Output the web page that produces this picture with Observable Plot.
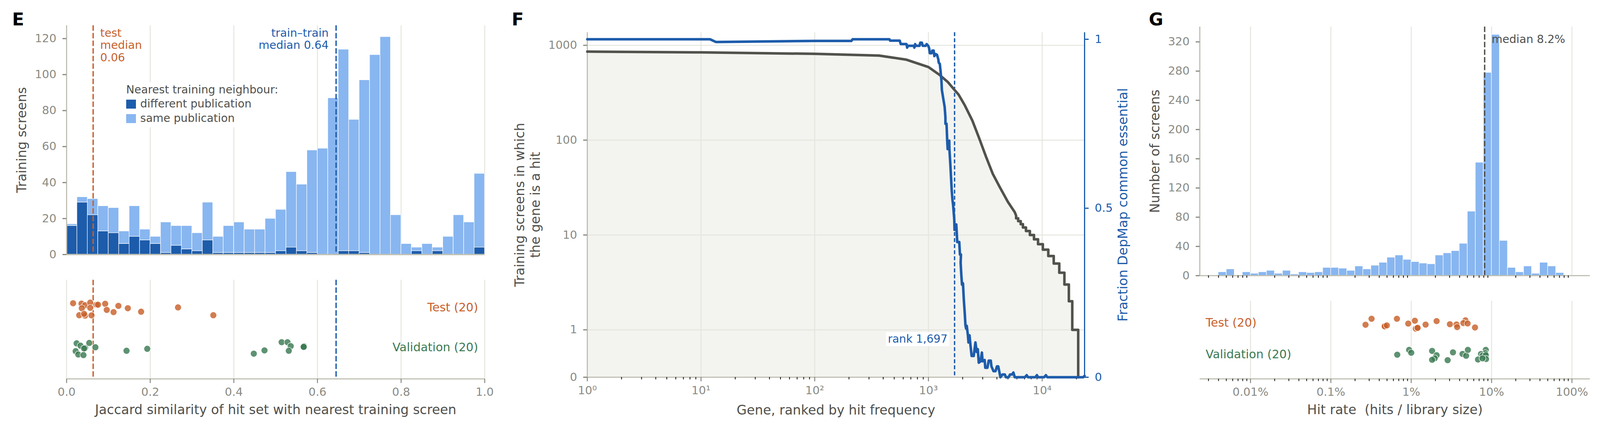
<!DOCTYPE html>
<html><head><meta charset="utf-8">
<script src="https://cdn.jsdelivr.net/npm/d3@7"></script>
<script src="https://cdn.jsdelivr.net/npm/@observablehq/plot@0.6"></script>
<style>
html,body{margin:0;padding:0;background:#fff}
#page{position:relative;width:4097px;height:1098px;overflow:hidden;background:#fff;font-family:"DejaVu Sans",sans-serif}
#page svg{position:absolute;background:transparent}
.letter{position:absolute;font-weight:700;font-size:45px;line-height:45px;color:#000}
.box{position:absolute;background:#fff}
.lab{position:absolute;font-size:28.2px;line-height:32px;color:#4f4f4b;white-space:pre}
.sw{position:absolute;width:25px;height:23px}
</style></head><body><div id="page"></div>
<script>
// ---------- Panel E ----------
const jaccardBinCount = 40;
const jaccardTotal = [17,32,31,27,26,13,27,14,10,18,16,16,12,29,10,16,18,14,14,20,25,46,39,58,59,87,114,75,97,111,121,22,6,4,6,4,10,22,18,45];
const jaccardDifferent = [16,29,22,13,12,6,10,8,6,1,5,3,2,8,1,1,1,1,1,1,2,4,2,1,0,0,2,2,1,0,0,0,0,2,0,2,0,0,0,4];
const testMedian = 0.0635, trainMedian = 0.6445;
const testJaccard = [.0155,.0356,.0442,.0565,.0713,.0751,.0922,.1239,.1464,.2665,.3509,.0364,.0565,.0960,.1123,.1782,.0302,.0442,.0418,.0596];
const testJaccardJitter = [1.111,1.101,1.062,1.127,1.075,1.075,1.098,1.045,.986,1.007,.811,.986,.996,.944,.889,.899,.811,.801,.845,.807];
const valJaccard = [.0240,.0333,.0442,.0418,.0542,.0689,.0217,.0279,.0403,.1433,.1929,.4477,.4733,.5143,.5283,.5360,.5314,.5678,.5670,.5670];
const valJaccardJitter = [.105,.046,-.01,-.023,.115,.007,-.091,-.174,-.189,-.081,-.032,-.154,-.072,.134,.134,.036,-.081,.036,.017,.017];
const jaccardTicks = [0,.2,.4,.6,.8,1];
const countTicksE = [0,20,40,60,80,100,120];
// ---------- Panel F ----------
const hitRank = [1,10,100,368,641,1000,1248,1475,1680,1841,2084,2432,2792,3206,3683,4236,5000,5741,5902,5902,6152,6152,6476,6476,6776,6776,7206,7206,7800,7800,8476,8476,9200,9200,10140,10140,11320,11320,12640,12640,14140,14140,15690,15690,17170,17170,18400,18400,19480,19480,20750,20750];
const hitCount = [858,842,813,780,705,590,489,412,343,302,234,161,105,67,44,32,22.3,17.4,16,15,15,14,14,13,13,12,12,11,11,10,10,9,9,8,8,7,7,6,6,5,5,4,4,3,3,2,2,1,1,1,1,0];
const essRank = [1,12,13.5,100,210,215,454,460,559,571,641,650,659,747,752,764,775,835,847,875,890,946,964,995,1014,1028,1066,1081,1111,1127,1156,1189,1221,1231,1259,1276,1301,1312,1358,1388,1410,1411,1442,1462,1475,1524,1528,1558,1602,1626,1648,1686,1696,1717,1757,1792,1866,1893,1932,1919,1946,1973,2012,2047,2086,2115,2143,2173,2223,2250,2298,2328,2397,2500,2590,2656,2716,2770,2871,2952,2993,3120,3162,3300,3388,3532,3581,3733,3891,4000,4111,4295,4480,4699,4797,5069,5214,5433,5585,5741,7050,7311,7500,8700,8995,9200,10400,10790,11100,23000,23600];
const essFraction = [1,1,.992,.995,.995,1,1,.9958,.9958,.9857,.9857,.9753,.9807,.9807,.9753,.9857,.9807,.9807,.99,.99,.9807,.9807,.9857,.9807,.9734,.9588,.9588,.9665,.9665,.9503,.9561,.9541,.9407,.931,.927,.908,.877,.85,.819,.80,.769,.75,.75,.70,.675,.70,.675,.63,.553,.525,.509,.468,.436,.452,.452,.40,.40,.363,.363,.339,.302,.274,.278,.229,.189,.154,.144,.152,.124,.103,.124,.103,.063,.063,.103,.075,.083,.043,.047,.073,.047,.051,.028,.028,.049,.049,.032,.018,.018,.032,.032,0,.008,.008,0,0,.008,.008,.014,0,0,.006,0,0,.006,0,0,.006,0,0,.004];
const rankMedian = 1697;
const rankDecades = [1,10,100,1000,10000];
const rankDecadeLabels = ["10⁰","10¹","10²","10³","10⁴"];
const hitTicks = [0,1,10,100,1000];
const fractionTicks = [0,.5,1];
// ---------- Panel G ----------
const rateBinStartLog = -2.4, rateBinStepLog = 0.1;
const rateCounts = [5,9,0,5,3,5,7,3,7,2,5,4,5,11,11,10,7,13,9,14,18,25,28,22,19,17,16,28,31,34,44,88,155,278,330,48,11,5,13,3,18,13,4];
const rateMedian = 8.2;
const testRate = [.270,.321,.468,.468,.497,.664,.918,1.11,1.14,1.20,1.20,1.51,2.07,3.03,3.66,3.73,4.73,4.46,5.03,6.22];
const testRateJitter = [.938,1.128,.889,.889,.918,1.128,.975,1.066,.815,.840,.840,.942,1.053,.955,.947,.864,1.078,.992,.979,.852];
const valRate = [.942,1.00,.670,1.82,2.07,1.96,1.82,2.84,3.31,4.35,4.82,5.07,8.47,8.32,7.38,7.71,8.47,6.78,8.53,7.71];
const valRateJitter = [.144,.053,-.008,.111,-.025,-.123,-.169,-.181,.066,.016,-.041,.144,.144,.041,.012,-.041,-.021,-.160,-.144,-.123];
const rateDecades = [.01,.1,1,10,100];
const rateLabels = ["0.01%","0.1%","1%","10%","100%"];
const rateMinorTicks = [.003,.004,.005,.006,.007,.008,.009,.02,.03,.04,.05,.06,.07,.08,.09,.2,.3,.4,.5,.6,.7,.8,.9,2,3,4,5,6,7,8,9,20,30,40,50,60,70,80,90];
const countTicksG = [0,40,80,120,160,200,240,280,320];

// ---------- Styles ----------
const cDark="#1d5cab", cLight="#88b6f0", cOrange="#c8602a", cGreen="#3a7a52", cInk="#52524d",
      cGrid="#e6e6df", cSpine="#c1c1b5", cTick="#8a8a83", cTitle="#4f4f4b", cFill="#f3f3ef";
const tickFont=29, titleFont=33.4, noteFont=28.5;
const page=document.getElementById("page");
function place(plot,left,top){plot.style.left=left+"px";plot.style.top=top+"px";page.appendChild(plot);}
function base(o){return Object.assign({style:{fontFamily:'"DejaVu Sans",sans-serif',fontSize:tickFont+"px",background:"transparent",overflow:"visible"}},o);}
const leftAxis=(t,o={})=>Plot.axisY(t,Object.assign({anchor:"left",tickSize:10,tickPadding:16,stroke:cTick,strokeWidth:3,fill:cTick,fontSize:tickFont,label:null},o));
const xAxisMajor=(t,o={})=>Plot.axisX(t,Object.assign({anchor:"bottom",tickSize:11,tickPadding:12,stroke:cTick,strokeWidth:2.5,fill:cTick,fontSize:tickFont,label:null},o));
const xAxisMinor=(t)=>Plot.axisX(t,{anchor:"bottom",tickSize:6,stroke:"#111",strokeWidth:2,fill:"none",label:null});
const yTitle=(s,dx)=>Plot.text([s],{frameAnchor:"left",textAnchor:"middle",rotate:-90,dx,fontSize:titleFont,fill:cTitle,lineHeight:1.2});
const xTitle=(s,dy)=>Plot.text([s],{frameAnchor:"bottom",dy,fontSize:titleFont,fill:cTitle});
const dots=(xs,ys,c)=>Plot.dot(xs.map((x,i)=>({x,y:ys[i]})),{x:"x",y:"y",r:8.6,fill:c,fillOpacity:.82,stroke:"#fff",strokeWidth:1.3});
const dashE="14,5.5";

// ---------- E histogram ----------
const binsE=jaccardTotal.map((t,i)=>({x1:i/jaccardBinCount,x2:(i+1)/jaccardBinCount,t,d:jaccardDifferent[i]}));
place(Plot.plot(base({width:1300,height:700,marginLeft:170,marginRight:59.6,marginTop:64.7,marginBottom:49,
  x:{domain:[0,1],axis:null},y:{domain:[0,127.3],axis:null},
  marks:[
    Plot.ruleX(jaccardTicks,{stroke:cGrid,strokeWidth:2.5}),
    Plot.rect(binsE,{x1:"x1",x2:"x2",y1:"d",y2:"t",fill:cLight,stroke:"#fff",strokeWidth:1.2}),
    Plot.rect(binsE,{x1:"x1",x2:"x2",y1:0,y2:"d",fill:cDark,stroke:"#fff",strokeWidth:1.2}),
    Plot.ruleX([testMedian],{stroke:cOrange,strokeWidth:3.5,strokeDasharray:dashE}),
    Plot.ruleX([trainMedian],{stroke:cDark,strokeWidth:3.5,strokeDasharray:dashE}),
    Plot.ruleX([0],{stroke:cSpine,strokeWidth:3}),
    Plot.ruleY([0],{stroke:cSpine,strokeWidth:3.5}),
    leftAxis(countTicksE),
    yTitle("Training screens",-116),
    Plot.text(["test\nmedian\n0.06"],{x:testMedian,frameAnchor:"top",lineAnchor:"top",textAnchor:"start",dx:18,dy:6,fontSize:noteFont,lineHeight:1.11,fill:cOrange}),
    Plot.text(["train–train\nmedian 0.64"],{x:trainMedian,frameAnchor:"top",lineAnchor:"top",textAnchor:"end",dx:-19,dy:6,fontSize:noteFont,lineHeight:1.11,fill:cDark})
  ]})),0,0);
// ---------- E strip ----------
place(Plot.plot(base({width:1300,height:398,marginLeft:170,marginRight:59.6,marginTop:16,marginBottom:128.7,
  x:{domain:[0,1],axis:null},y:{domain:[-.787,1.696],axis:null},
  marks:[
    Plot.ruleX(jaccardTicks,{stroke:cGrid,strokeWidth:2.5}),
    Plot.ruleX([testMedian],{stroke:cOrange,strokeWidth:3.5,strokeDasharray:dashE}),
    Plot.ruleX([trainMedian],{stroke:cDark,strokeWidth:3.5,strokeDasharray:dashE}),
    dots(testJaccard,testJaccardJitter,cOrange),
    dots(valJaccard,valJaccardJitter,cGreen),
    Plot.ruleY([-.787],{stroke:cSpine,strokeWidth:3}),
    xAxisMajor(jaccardTicks,{tickFormat:d=>d.toFixed(1)}),
    Plot.text(["Test (20)"],{x:1,y:1,dx:-17,textAnchor:"end",fontSize:30,fill:cOrange}),
    Plot.text(["Validation (20)"],{x:1,y:0,dx:-17,textAnchor:"end",fontSize:30,fill:cGreen}),
    xTitle("Jaccard similarity of hit set with nearest training screen",90)
  ]})),0,700);
// ---------- F ----------
const floorF=Math.pow(10,-.5);
const hitSeries=hitRank.map((x,i)=>({x,y:Math.max(hitCount[i],floorF)}));
const essSeries=essRank.map((x,i)=>({x,y:essFraction[i]}));
place(Plot.plot(base({width:1600,height:1098,marginLeft:203,marginRight:124,marginTop:82.6,marginBottom:133,
  x:{type:"log",domain:[1,23600],axis:null},y:{type:"log",domain:[floorF,1366],axis:null},
  marks:[
    Plot.areaY(hitSeries,{x:"x",y1:floorF,y2:"y",fill:cFill}),
    Plot.ruleX(rankDecades,{stroke:cGrid,strokeWidth:2.5}),
    Plot.ruleY(hitTicks.slice(1),{stroke:cGrid,strokeWidth:2.5}),
    Plot.ruleX([1],{stroke:cSpine,strokeWidth:3}),
    Plot.ruleY([floorF],{stroke:cSpine,strokeWidth:3}),
    Plot.ruleX([rankMedian],{stroke:cDark,strokeWidth:3.5,strokeDasharray:"10,5.5"}),
    Plot.line(hitSeries,{x:"x",y:"y",stroke:cInk,strokeWidth:6.5}),
    leftAxis(hitTicks.map(d=>Math.max(d,floorF)),{tickFormat:d=>d<1?"0":String(d)}),
    xAxisMajor(rankDecades,{tickFormat:d=>rankDecadeLabels[rankDecades.indexOf(d)]}),
    xAxisMinor(rankDecades.flatMap(d=>[2,3,4,5,6,7,8,9].map(k=>k*d)).filter(d=>d<23600)),
    yTitle("Training screens in which\nthe gene is a hit",-154),
    xTitle("Gene, ranked by hit frequency",95)
  ]})),1300,0);
place(Plot.plot(base({width:1600,height:1098,marginLeft:203,marginRight:124,marginTop:82.6,marginBottom:133,
  x:{type:"log",domain:[1,23600],axis:null},y:{domain:[0,1.0201],axis:null},
  marks:[
    Plot.line(essSeries,{x:"x",y:"y",stroke:cDark,strokeWidth:6.5}),
    Plot.ruleX([23600],{stroke:cDark,strokeWidth:3}),
    Plot.axisY(fractionTicks,{anchor:"right",tickSize:10,tickPadding:16,stroke:cDark,strokeWidth:3,fill:cDark,fontSize:tickFont,label:null,tickFormat:d=>String(d)}),
    Plot.text(["Fraction DepMap common essential"],{frameAnchor:"right",textAnchor:"middle",rotate:-90,dx:99,fontSize:titleFont,fill:cDark})
  ]})),1300,0);
// ---------- G histogram ----------
const edge=i=>Math.pow(10,rateBinStartLog+i*rateBinStepLog);
const binsG=rateCounts.map((c,i)=>({x1:edge(i),x2:edge(i+1),c}));
const xG={type:"log",domain:[.00234,168],axis:null};
place(Plot.plot(base({width:1197,height:750,marginLeft:171,marginRight:27,marginTop:68,marginBottom:45,
  x:xG,y:{domain:[0,340.7],axis:null},
  marks:[
    Plot.ruleX(rateDecades,{stroke:cGrid,strokeWidth:2.5}),
    Plot.rect(binsG,{x1:"x1",x2:"x2",y1:0,y2:"c",fill:cLight,stroke:"#fff",strokeWidth:1.2}),
    Plot.ruleX([rateMedian],{stroke:cInk,strokeWidth:3.5,strokeDasharray:dashE}),
    Plot.ruleX([.00234],{stroke:cSpine,strokeWidth:3}),
    Plot.ruleY([0],{stroke:cSpine,strokeWidth:3}),
    leftAxis(countTicksG),
    xAxisMinor(rateMinorTicks),
    yTitle("Number of screens",-116),
    Plot.text(["median 8.2%"],{x:10,frameAnchor:"top",lineAnchor:"top",textAnchor:"start",dy:21,fontSize:noteFont,fill:cTitle})
  ]})),2900,0);
// ---------- G strip ----------
place(Plot.plot(base({width:1197,height:398,marginLeft:171,marginRight:27,marginTop:70,marginBottom:128.7,
  x:xG,y:{domain:[-.773,1.688],axis:null},
  marks:[
    Plot.ruleX(rateDecades,{stroke:cGrid,strokeWidth:2.5}),
    dots(testRate,testRateJitter,cOrange),
    dots(valRate,valRateJitter,cGreen),
    Plot.ruleY([-.773],{stroke:cSpine,strokeWidth:3}),
    xAxisMajor(rateDecades,{tickFormat:d=>rateLabels[rateDecades.indexOf(d)]}),
    xAxisMinor(rateMinorTicks),
    Plot.text(["Test (20)"],{frameAnchor:"left",y:1,dx:15,textAnchor:"start",fontSize:30,fill:cOrange}),
    Plot.text(["Validation (20)"],{frameAnchor:"left",y:0,dx:15,textAnchor:"start",fontSize:30,fill:cGreen}),
    xTitle("Hit rate  (hits / library size)",90)
  ]})),2900,700);

// ---------- Overlays: panel letters, legend, rank tag ----------
function el(cls,txt,css){const e=document.createElement("div");e.className=cls;e.textContent=txt;Object.assign(e.style,css);page.appendChild(e);return e;}
el("letter","E",{left:"31px",top:"27px"});
el("letter","F",{left:"1310px",top:"27px"});
el("letter","G",{left:"2941px",top:"27px"});
el("box","",{left:"315px",top:"210px",width:"286px",height:"116px"});
el("lab","Nearest training neighbour:",{left:"323px",top:"214px"});
el("sw","",{left:"323px",top:"255px",background:cDark});
el("lab","different publication",{left:"359px",top:"250px"});
el("sw","",{left:"323px",top:"292px",background:cLight});
el("lab","same publication",{left:"359px",top:"287px"});
el("box","",{left:"2268px",top:"850px",width:"162px",height:"36px"});
el("lab","rank 1,697",{left:"2273px",top:"852px",color:cDark});
</script></body></html>
